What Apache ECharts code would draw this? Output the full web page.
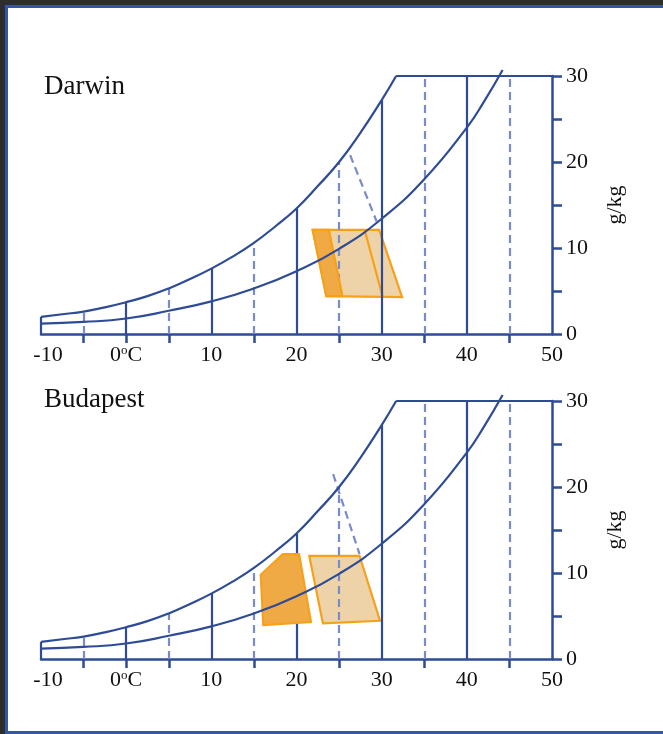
<!DOCTYPE html>
<html>
<head>
<meta charset="utf-8">
<script src="https://cdn.jsdelivr.net/npm/echarts@6/dist/echarts.min.js"></script>
<style>
  html, body { margin: 0; padding: 0; background: #2d2d2d; overflow: hidden; }
  #frame {
    position: absolute; left: 5px; top: 5px; width: 720px; height: 729px;
    box-sizing: border-box; border: 3px solid #3556a3; background: #fff;
  }
  #chart { position: absolute; left: 0; top: 0; width: 663px; height: 734px; }
</style>
</head>
<body>
<div id="frame"></div>
<div id="chart"></div>
<script>
// saturation curve (g/kg)
const satT = [-10, -7.5, -5, -2.5, 0, 2.5, 5, 7.5, 10, 12.5, 15, 17.5, 20, 22.5, 25, 27.5, 30, 31.7];
const satW = [2.0, 2.3, 2.6, 3.1, 3.7, 4.4, 5.3, 6.4, 7.6, 9.0, 10.6, 12.5, 14.6, 17.2, 20.0, 23.4, 27.2, 30.0];
// lower (50%) curve
const halfT = [-10, -5, 0, 5, 10, 15, 20, 25, 30, 35, 40, 42, 44.2];
const halfW = [1.2, 1.4, 1.8, 2.7, 3.8, 5.3, 7.3, 9.9, 13.4, 18.0, 24.0, 27.0, 30.7];

const solidX = [-10, 0, 10, 20, 30, 40];
const solidTop = [2.0, 3.7, 7.6, 14.6, 27.2, 30];
const dashX = [-5, 5, 15, 25, 35, 45];
const dashTop = [2.6, 5.3, 10.6, 20.0, 30, 30];

const xLabels = [-10, 0, 10, 20, 30, 40, 50];
const xTicks = [-5, 0, 5, 15, 25, 35, 45];
const yLabels = [0, 10, 20, 30];

const cities = ['Darwin', 'Budapest'];
const diagonals = [
  [[26.3, 20.8], [29.4, 13.1]],
  [[24.3, 21.5], [27.4, 12.2]]
];
const lightZones = [
  [[21.9, 12.1], [29.7, 12.1], [32.4, 4.3], [23.5, 4.4]],
  [[21.5, 12.0], [27.4, 12.0], [29.8, 4.45], [23.1, 4.15]]
];
const darkZones = [
  [[21.9, 12.1], [23.8, 12.1], [25.4, 4.4], [23.5, 4.4]],
  [[15.8, 9.8], [18.4, 12.2], [20.3, 12.2], [21.7, 4.3], [16.1, 3.95]]
];
const innerLines = [
  [[28.0, 12.1], [30.1, 4.4]],
  null
];

const BLUE = '#2e4b96';
const DASH = '#7a8cc8';
const ORANGE = '#f7a11a';
const LIGHT = '#efd3a8';
const DARK = '#f0aa45';
const FONT = 'Liberation Serif';

const chart = echarts.init(document.getElementById('chart'));

const gridTops = [76, 401];
const titleY = [87, 400];

const grids = [], xAxes = [], yAxes = [], series = [], texts = [];

gridTops.forEach((top, i) => {
  grids.push({ left: 41, top: top, width: 511, height: 258 });
  xAxes.push({
    type: 'value', gridIndex: i, min: -10, max: 50,
    axisLine: { show: true, onZero: false, lineStyle: { color: BLUE, width: 2.5 } },
    axisTick: { show: true, inside: false, length: 9, customValues: xTicks, lineStyle: { color: BLUE, width: 2.5 } },
    axisLabel: {
      customValues: xLabels, margin: 10, fontFamily: FONT, fontSize: 22, color: '#111',
      formatter: v => v === 0 ? '{n|0}{s|o}{n|C}' : (v === -10 ? '{m|-10}' : String(v)),
      rich: {
        n: { fontFamily: FONT, fontSize: 22, color: '#111' },
        s: { fontFamily: FONT, fontSize: 13, lineHeight: 10, color: '#111', verticalAlign: 'top' },
        m: { fontFamily: FONT, fontSize: 22, color: '#111', padding: [0, 0, 0, 14] }
      }
    },
    splitLine: { show: false }
  });
  yAxes.push({
    type: 'value', gridIndex: i, min: 0, max: 30, interval: 5, position: 'right',
    name: 'g/kg', nameLocation: 'middle', nameRotate: 90, nameGap: 52,
    nameTextStyle: { fontFamily: FONT, fontSize: 22, color: '#111' },
    axisLine: { show: true, onZero: false, lineStyle: { color: BLUE, width: 2.5 } },
    axisTick: { show: true, inside: false, length: 10, lineStyle: { color: BLUE, width: 2.5 } },
    axisLabel: { customValues: yLabels, margin: 14, fontFamily: FONT, fontSize: 22, color: '#111' },
    splitLine: { show: false }
  });

  // light comfort zone, under the grid lines
  series.push(polygon(lightZones[i], LIGHT, i, 1));
  if (innerLines[i]) {
    series.push({
      type: 'lines', coordinateSystem: 'cartesian2d', xAxisIndex: i, yAxisIndex: i, z: 2, silent: true,
      data: [{ coords: innerLines[i] }],
      lineStyle: { color: ORANGE, width: 2.2, opacity: 1 }
    });
  }
  // vertical temperature lines
  series.push({
    type: 'lines', coordinateSystem: 'cartesian2d', xAxisIndex: i, yAxisIndex: i, z: 3, silent: true,
    data: solidX.map((x, k) => ({ coords: [[x, 0], [x, solidTop[k]]] })),
    lineStyle: { color: BLUE, width: 2.2, opacity: 1 }
  });
  series.push({
    type: 'lines', coordinateSystem: 'cartesian2d', xAxisIndex: i, yAxisIndex: i, z: 3, silent: true,
    data: dashX.map((x, k) => ({ coords: [[x, 0], [x, dashTop[k]]] })).concat([{ coords: diagonals[i] }]),
    lineStyle: { color: DASH, width: 2.2, type: [8, 5], opacity: 1 }
  });
  series.push(polygon(darkZones[i], DARK, i, 4));
  // curves
  series.push({
    type: 'line', xAxisIndex: i, yAxisIndex: i, z: 5, silent: true, clip: false,
    showSymbol: false, smooth: true,
    data: satT.map((t, k) => [t, satW[k]]),
    lineStyle: { color: BLUE, width: 2.2 }
  });
  series.push({
    type: 'line', xAxisIndex: i, yAxisIndex: i, z: 5, silent: true, clip: false,
    showSymbol: false,
    data: [[satT[satT.length - 1], 30], [50, 30]],
    lineStyle: { color: BLUE, width: 2.2 }
  });
  series.push({
    type: 'line', xAxisIndex: i, yAxisIndex: i, z: 5, silent: true, clip: false,
    showSymbol: false, smooth: true,
    data: halfT.map((t, k) => [t, halfW[k]]),
    lineStyle: { color: BLUE, width: 2.2 }
  });

  texts.push({
    type: 'text', left: 44, top: titleY[i] - 14, silent: true,
    style: { text: cities[i], fontFamily: FONT, fontSize: 27, fill: '#111' }
  });
});

function polygon(pts, fill, i, z) {
  return {
    type: 'custom', coordinateSystem: 'cartesian2d', xAxisIndex: i, yAxisIndex: i, z: z,
    silent: true, clip: false,
    data: [pts[0]],
    renderItem: (params, api) => ({
      type: 'polygon',
      shape: { points: pts.map(p => api.coord(p)) },
      style: { fill: fill, stroke: ORANGE, lineWidth: 2.2 }
    })
  };
}

chart.setOption({
  animation: false,
  grid: grids,
  xAxis: xAxes,
  yAxis: yAxes,
  graphic: texts,
  series: series
});
</script>
</body>
</html>
